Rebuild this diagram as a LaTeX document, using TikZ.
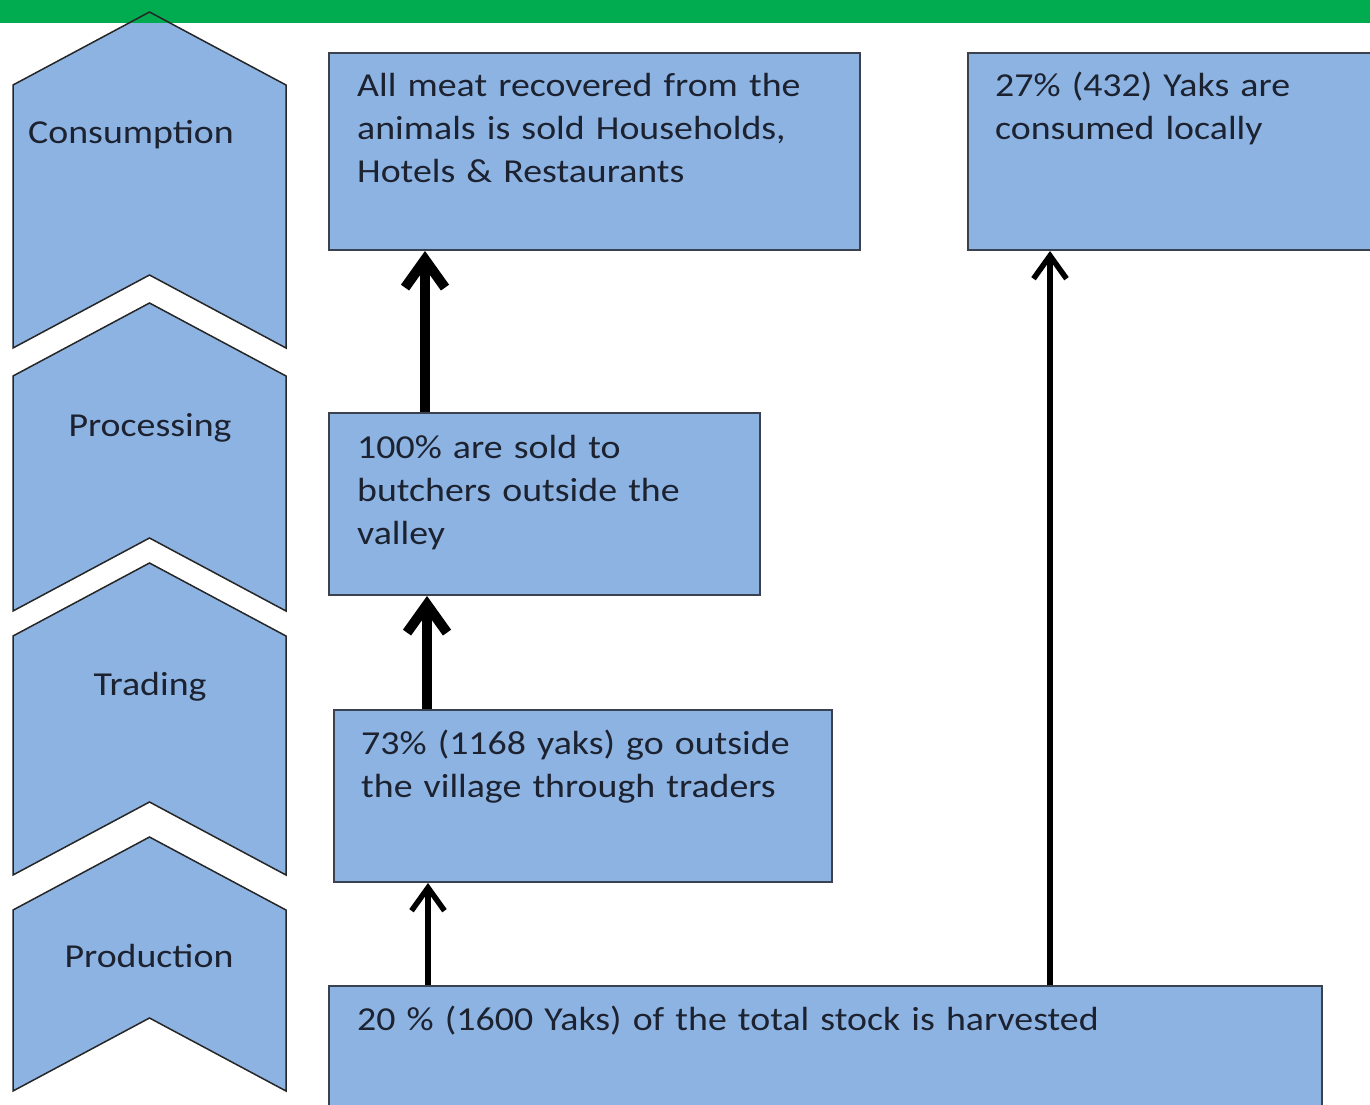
\documentclass[tikz,border=0pt]{standalone}
\usepackage{fontspec}
\setmainfont{Carlito}[FakeStretch=1.13]
\usetikzlibrary{arrows.meta}
\definecolor{stageblue}{HTML}{8DB3E2}
\definecolor{boxedge}{HTML}{3A4250}
\definecolor{bargreen}{HTML}{00AC4F}
\definecolor{inktext}{HTML}{1C2230}

\begin{document}
\begin{tikzpicture}[x=1pt,y=-1pt,
  stagefill/.style={fill=stageblue},
  stageedge/.style={draw=black!85, line width=1.5pt, line join=miter},
  box/.style={fill=stageblue, draw=boxedge, line width=2pt, inner sep=0pt, anchor=north west},
  txt/.style={text=inktext, font=\fontsize{33.5}{43}\selectfont, inner sep=0pt},
  boxtxt/.style={txt, anchor=base west, align=left, text width=#1},
  heavyflow/.style={line width=10pt, -{Straight Barb[length=28pt,width=40pt]}},
  lightflow/.style={line width=5.5pt, -{Straight Barb[length=23pt,width=33pt]}}
]
\clip (0,0) rectangle (1370,1105);

% stage chevrons: fill first, banner, then outlines on top
\def\chevronlist{12/348, 303/611, 563/875, 837/1091}
\foreach \t/\b in \chevronlist
  \fill[stagefill] (13,\t+73) -- (149.5,\t) -- (286,\t+73) -- (286,\b)
               -- (149.5,\b-73) -- (13,\b) -- cycle;

% top banner
\fill[bargreen] (0,0) rectangle (1370,23);

\foreach \t/\b in \chevronlist
  \draw[stageedge] (13,\t+73) -- (149.5,\t) -- (286,\t+73) -- (286,\b)
               -- (149.5,\b-73) -- (13,\b) -- cycle;

\node[txt, anchor=base west] (consumption) at (28,143) {Consumption};
\node[txt, anchor=base] (processing) at (150,436) {Processing};
\node[txt, anchor=base] (trading) at (150,695) {Trading};
\node[txt, anchor=base] (production) at (149,967) {Production};

% flow boxes
\node[box, minimum width=531pt, minimum height=197pt] (meat) at (328,52) {};
\node[box, minimum width=430pt, minimum height=197pt] (local) at (967,52) {};
\node[box, minimum width=431pt, minimum height=182pt] (butchers) at (328,412) {};
\node[box, minimum width=498pt, minimum height=172pt] (traders) at (333,709) {};
\node[box, minimum width=993pt, minimum height=170pt] (harvest) at (328,985) {};

\node[boxtxt=500pt] (meattxt) at (357,97)
  {All meat recovered from the\\animals is sold Households,\\Hotels \& Restaurants};
\node[boxtxt=370pt] (localtxt) at (995,97)
  {27\% (432) Yaks are\\consumed locally};
\node[boxtxt=400pt] (butcherstxt) at (357,458)
  {100\% are sold to\\butchers outside the\\valley};
\node[boxtxt=470pt] (traderstxt) at (361,754)
  {73\% (1168 yaks) go outside\\the village through traders};
\node[boxtxt=900pt] (harvesttxt) at (357,1030)
  {20 \% (1600 Yaks) of the total stock is harvested};

% connector columns
\coordinate (colA) at (425,0);
\coordinate (colB) at (427,0);
\coordinate (colC) at (428,0);
\coordinate (colD) at (1050,0);

\draw[heavyflow] (butchers.north -| colA) -- (meat.south -| colA);
\draw[heavyflow] (traders.north -| colB) -- (butchers.south -| colB);
\draw[lightflow] (harvest.north -| colC) -- (traders.south -| colC);
\draw[lightflow] (harvest.north -| colD) -- (local.south -| colD);
\end{tikzpicture}
\end{document}
